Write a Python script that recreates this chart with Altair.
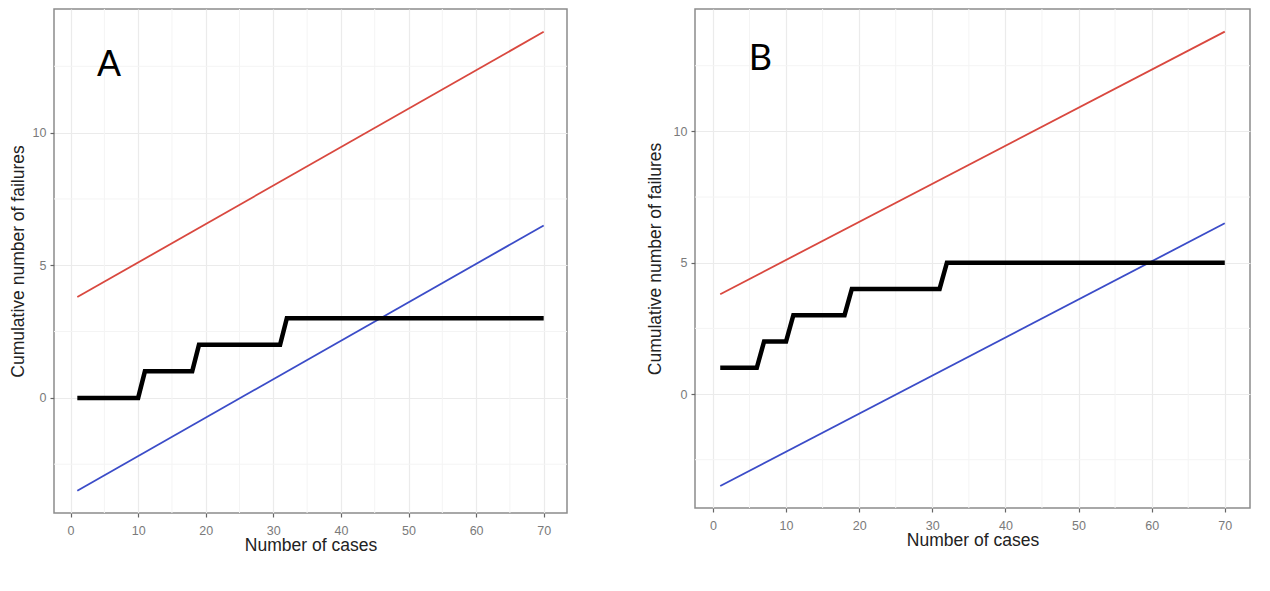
import altair as alt
import pandas as pd

# ---- data ----
limit_cases = [1, 70]
upper_limit = [3.8, 13.8]      # red line
lower_limit = [-3.5, 6.5]      # blue line

a_cases = [1, 10, 11, 18, 19, 31, 32, 70]
a_failures = [0, 0, 1, 1, 2, 2, 3, 3]
b_cases = [1, 6, 7, 10, 11, 18, 19, 31, 32, 70]
b_failures = [1, 1, 2, 2, 3, 3, 4, 4, 5, 5]

x_major = [0, 10, 20, 30, 40, 50, 60, 70]
x_minor = [5, 15, 25, 35, 45, 55, 65]
y_major = [0, 5, 10]
y_minor = [-2.5, 2.5, 7.5, 12.5]

panel_labels = ["A", "B"]
label_x = [5.7, 6.5]
label_y = [12.55, 12.75]
label_fonts = ["Liberation Sans", "Lato"]

X_DOMAIN = [-2.45, 73.45]
Y_DOMAIN = [-4.34, 14.66]

GRID = "#ebebeb"
MINOR = "#f4f4f4"


def panel(cases, failures, label, lx, ly, font, w, h, top_gap, ytitle_pad):
    xs = alt.Scale(domain=X_DOMAIN, nice=False, zero=False)
    ys = alt.Scale(domain=Y_DOMAIN, nice=False, zero=False)
    xaxis = alt.Axis(values=x_major, grid=True, gridColor=GRID, gridWidth=1.2,
                     domain=False, tickColor="#666666", tickSize=4, tickWidth=1.2,
                     labelColor="#7a7a7a", labelFontSize=12.5, labelPadding=7,
                     labelFont="Liberation Sans",
                     title="Number of cases", titleFontSize=17.5, titleColor="#222222",
                     titleFontWeight="normal", titleFont="Liberation Sans", titlePadding=0)
    yaxis = alt.Axis(values=y_major, grid=True, gridColor=GRID, gridWidth=1.2,
                     domain=False, tickColor="#666666", tickSize=4, tickWidth=1.2,
                     labelColor="#7a7a7a", labelFontSize=12.5, labelPadding=4,
                     labelFont="Liberation Sans",
                     title="Cumulative number of failures", titleFontSize=17.5,
                     titleColor="#222222", titleFontWeight="normal",
                     titleFont="Liberation Sans", titlePadding=ytitle_pad)
    X = alt.X("x:Q", scale=xs, axis=xaxis)
    Y = alt.Y("y:Q", scale=ys, axis=yaxis)

    minor_x = alt.Chart(pd.DataFrame({"x": x_minor})).mark_rule(
        color=MINOR, strokeWidth=1).encode(x=X)
    minor_y = alt.Chart(pd.DataFrame({"y": y_minor})).mark_rule(
        color=MINOR, strokeWidth=1).encode(y=Y)
    red = alt.Chart(pd.DataFrame({"x": limit_cases, "y": upper_limit})).mark_line(
        color="#d9483f", strokeWidth=1.8, clip=True).encode(x=X, y=Y)
    blue = alt.Chart(pd.DataFrame({"x": limit_cases, "y": lower_limit})).mark_line(
        color="#3b4cc8", strokeWidth=1.8, clip=True).encode(x=X, y=Y)
    step = alt.Chart(pd.DataFrame({"x": cases, "y": failures})).mark_line(
        color="black", strokeWidth=4.5, strokeJoin="miter", strokeCap="butt",
        clip=True).encode(x=X, y=Y)
    txt = alt.Chart(pd.DataFrame({"x": [lx], "y": [ly], "t": [label]})).mark_text(
        fontSize=36, font=font, color="black", align="center", baseline="middle"
    ).encode(x=X, y=Y, text="t:N")
    props = dict(width=w, height=h)
    if top_gap:
        props["title"] = alt.TitleParams(text=" ", fontSize=1, offset=top_gap)
    return alt.layer(minor_x, minor_y, red, blue, step, txt).properties(**props)


pa = panel(a_cases, a_failures, panel_labels[0], label_x[0], label_y[0], label_fonts[0],
           513, 504, 6, 5)
pb = panel(b_cases, b_failures, panel_labels[1], label_x[1], label_y[1], label_fonts[1],
           555, 499, 0, 9)

chart = alt.hconcat(pa, pb, spacing=76).properties(
    padding={"left": 0, "top": -8, "right": 0, "bottom": 0},
    background="white",
).configure_view(stroke="#8c8c8c", strokeWidth=1.5)

chart.save("out.html", embed_options={"renderer": "svg", "actions": False})
